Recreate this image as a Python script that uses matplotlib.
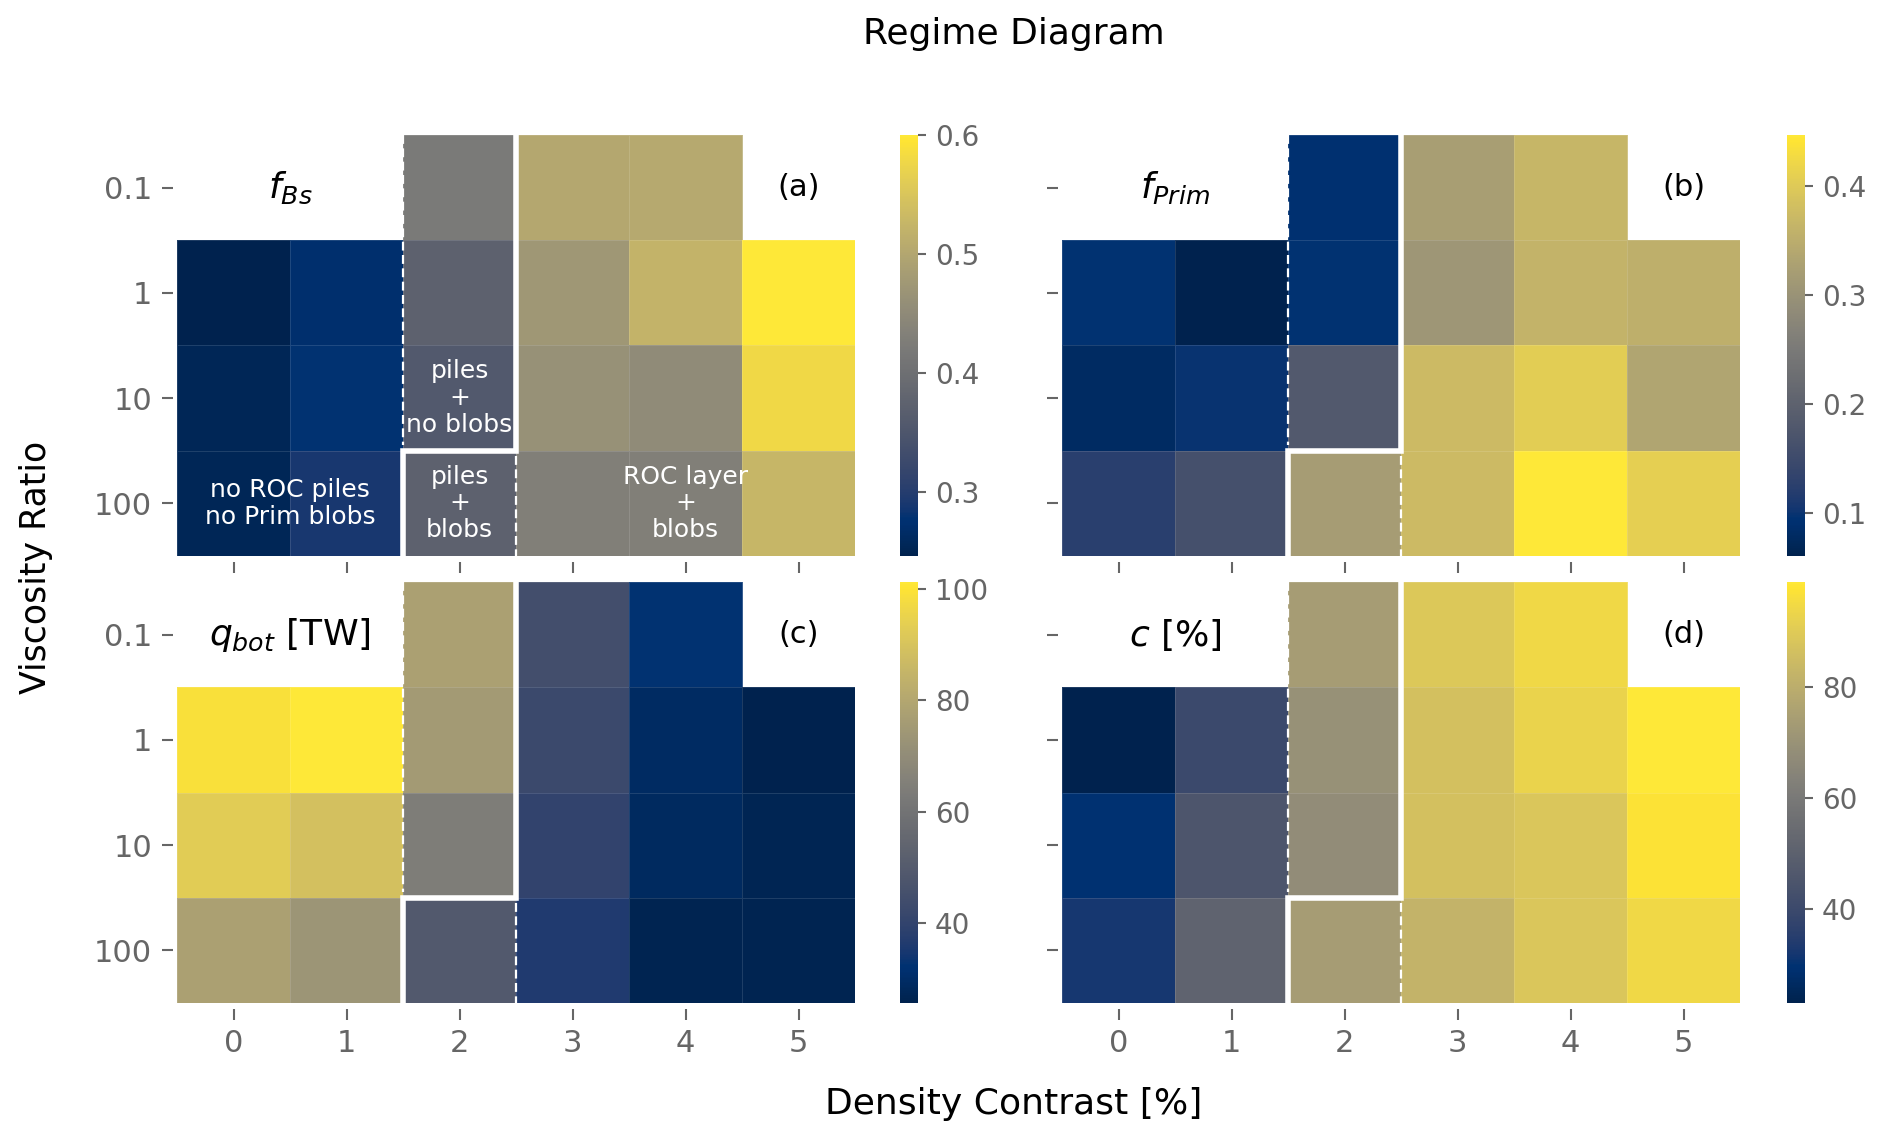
import numpy as np
import matplotlib
matplotlib.use('Agg')
import matplotlib.pyplot as plt

nan = np.nan

density = [0, 1, 2, 3, 4, 5]
visc_labels = ['0.1', '1', '10', '100']

# rows: viscosity ratio 0.1, 1, 10, 100 ; cols: density contrast 0..5
f_bs = [
    [nan, nan, 0.419, 0.501, 0.504, nan],
    [0.246, 0.271, 0.373, 0.473, 0.522, 0.600],
    [0.253, 0.278, 0.356, 0.462, 0.451, 0.579],
    [0.253, 0.289, 0.373, 0.430, 0.430, 0.526],
]
f_prim = [
    [nan, nan, 0.092, 0.323, 0.366, nan],
    [0.096, 0.061, 0.096, 0.308, 0.362, 0.354],
    [0.080, 0.100, 0.181, 0.374, 0.405, 0.335],
    [0.123, 0.161, 0.320, 0.374, 0.447, 0.408],
]
q_bot = [
    [nan, nan, 77.8, 44.6, 32.5, nan],
    [99.0, 101.2, 75.5, 42.3, 29.5, 25.7],
    [92.9, 89.1, 64.2, 40.0, 28.7, 26.8],
    [77.8, 73.3, 49.1, 36.3, 26.5, 26.5],
]
c_pct = [
    [nan, nan, 73.9, 89.1, 94.4, nan],
    [23.0, 39.7, 69.4, 86.8, 92.9, 99.0],
    [29.8, 45.0, 67.8, 86.8, 88.4, 97.5],
    [32.1, 51.1, 73.9, 82.3, 88.4, 94.4],
]

panels = [
    (f_bs, r'$f_{Bs}$', '(a)', [0.3, 0.4, 0.5, 0.6]),
    (f_prim, r'$f_{Prim}$', '(b)', [0.1, 0.2, 0.3, 0.4]),
    (q_bot, r'$q_{bot}$ [TW]', '(c)', [40, 60, 80, 100]),
    (c_pct, r'$c$ [%]', '(d)', [40, 60, 80]),
]

W, H = 1892, 1145
fig = plt.figure(figsize=(W / 100, H / 100), dpi=100)

gray = '#666666'
ax_left = [177, 1062]
ax_top = [135, 582]
ax_w, ax_h = 678, 421
cb_left = [900, 1787]
cb_w = 18

for k, (vals, name, tag, cticks) in enumerate(panels):
    r, c = divmod(k, 2)
    x0, y0 = ax_left[c], ax_top[r]
    ax = fig.add_axes([x0 / W, 1 - (y0 + ax_h) / H, ax_w / W, ax_h / H])
    data = np.ma.masked_invalid(np.array(vals))
    xe = np.arange(len(density) + 1) - 0.5
    ye = np.arange(len(visc_labels) + 1) - 0.5
    mesh = ax.pcolormesh(xe, ye, data, cmap='cividis',
                         edgecolors=(1, 1, 1, 0.12), linewidth=0.6)
    ax.set_xlim(-0.5, 5.5)
    ax.set_ylim(3.5, -0.5)

    # regime boundaries
    ax.plot([2.5, 2.5, 1.5, 1.5], [-0.5, 2.5, 2.5, 3.5], color='white',
            lw=4, solid_joinstyle='miter', clip_on=False, zorder=5)
    ax.plot([1.5, 1.5], [-0.5, 2.45], color='white', lw=1.6,
            ls=(0, (4, 2)), clip_on=False, zorder=4)
    ax.plot([2.5, 2.5], [2.55, 3.5], color='white', lw=1.6,
            ls=(0, (4, 2)), clip_on=False, zorder=4)

    ax.text(0.5, 0, name, ha='center', va='center', fontsize=26)
    ax.text(5, 0, tag, ha='center', va='center', fontsize=22)

    if k == 0:
        tkw = dict(ha='center', va='center', color='white', fontsize=18,
                   linespacing=1.15, zorder=6)
        ax.text(0.5, 3, 'no ROC piles\nno Prim blobs', **tkw)
        ax.text(2, 2, 'piles\n+\nno blobs', **tkw)
        ax.text(2, 3, 'piles\n+\nblobs', **tkw)
        ax.text(4, 3, 'ROC layer\n+\nblobs', **tkw)

    for s in ax.spines.values():
        s.set_visible(False)
    ax.spines['bottom'].set_position(('outward', 4))
    ax.spines['left'].set_position(('outward', 3))
    ax.set_xticks(density)
    ax.set_yticks(range(len(visc_labels)))
    ax.set_xticklabels([str(d) for d in density] if r == 1 else [])
    ax.set_yticklabels(visc_labels if c == 0 else [])
    ax.tick_params(length=8, width=1.5, color=gray, labelcolor=gray,
                   labelsize=22, pad=7)

    cax = fig.add_axes([cb_left[c] / W, 1 - (y0 + ax_h) / H, cb_w / W, ax_h / H])
    cb = fig.colorbar(mesh, cax=cax, ticks=cticks)
    cb.outline.set_visible(False)
    cb.ax.tick_params(length=6, width=1.5, color=gray, labelcolor=gray,
                      labelsize=20, pad=6)

fig.text(0.536, 1 - 34 / H, 'Regime Diagram', ha='center', va='center', fontsize=26)
fig.text(0.536, 1 - 1104 / H, 'Density Contrast [%]', ha='center', va='center', fontsize=26)
fig.text(36 / W, 1 - 567 / H, 'Viscosity Ratio', ha='center', va='center',
         rotation=90, fontsize=25)

fig.savefig('out.png', dpi=100)
